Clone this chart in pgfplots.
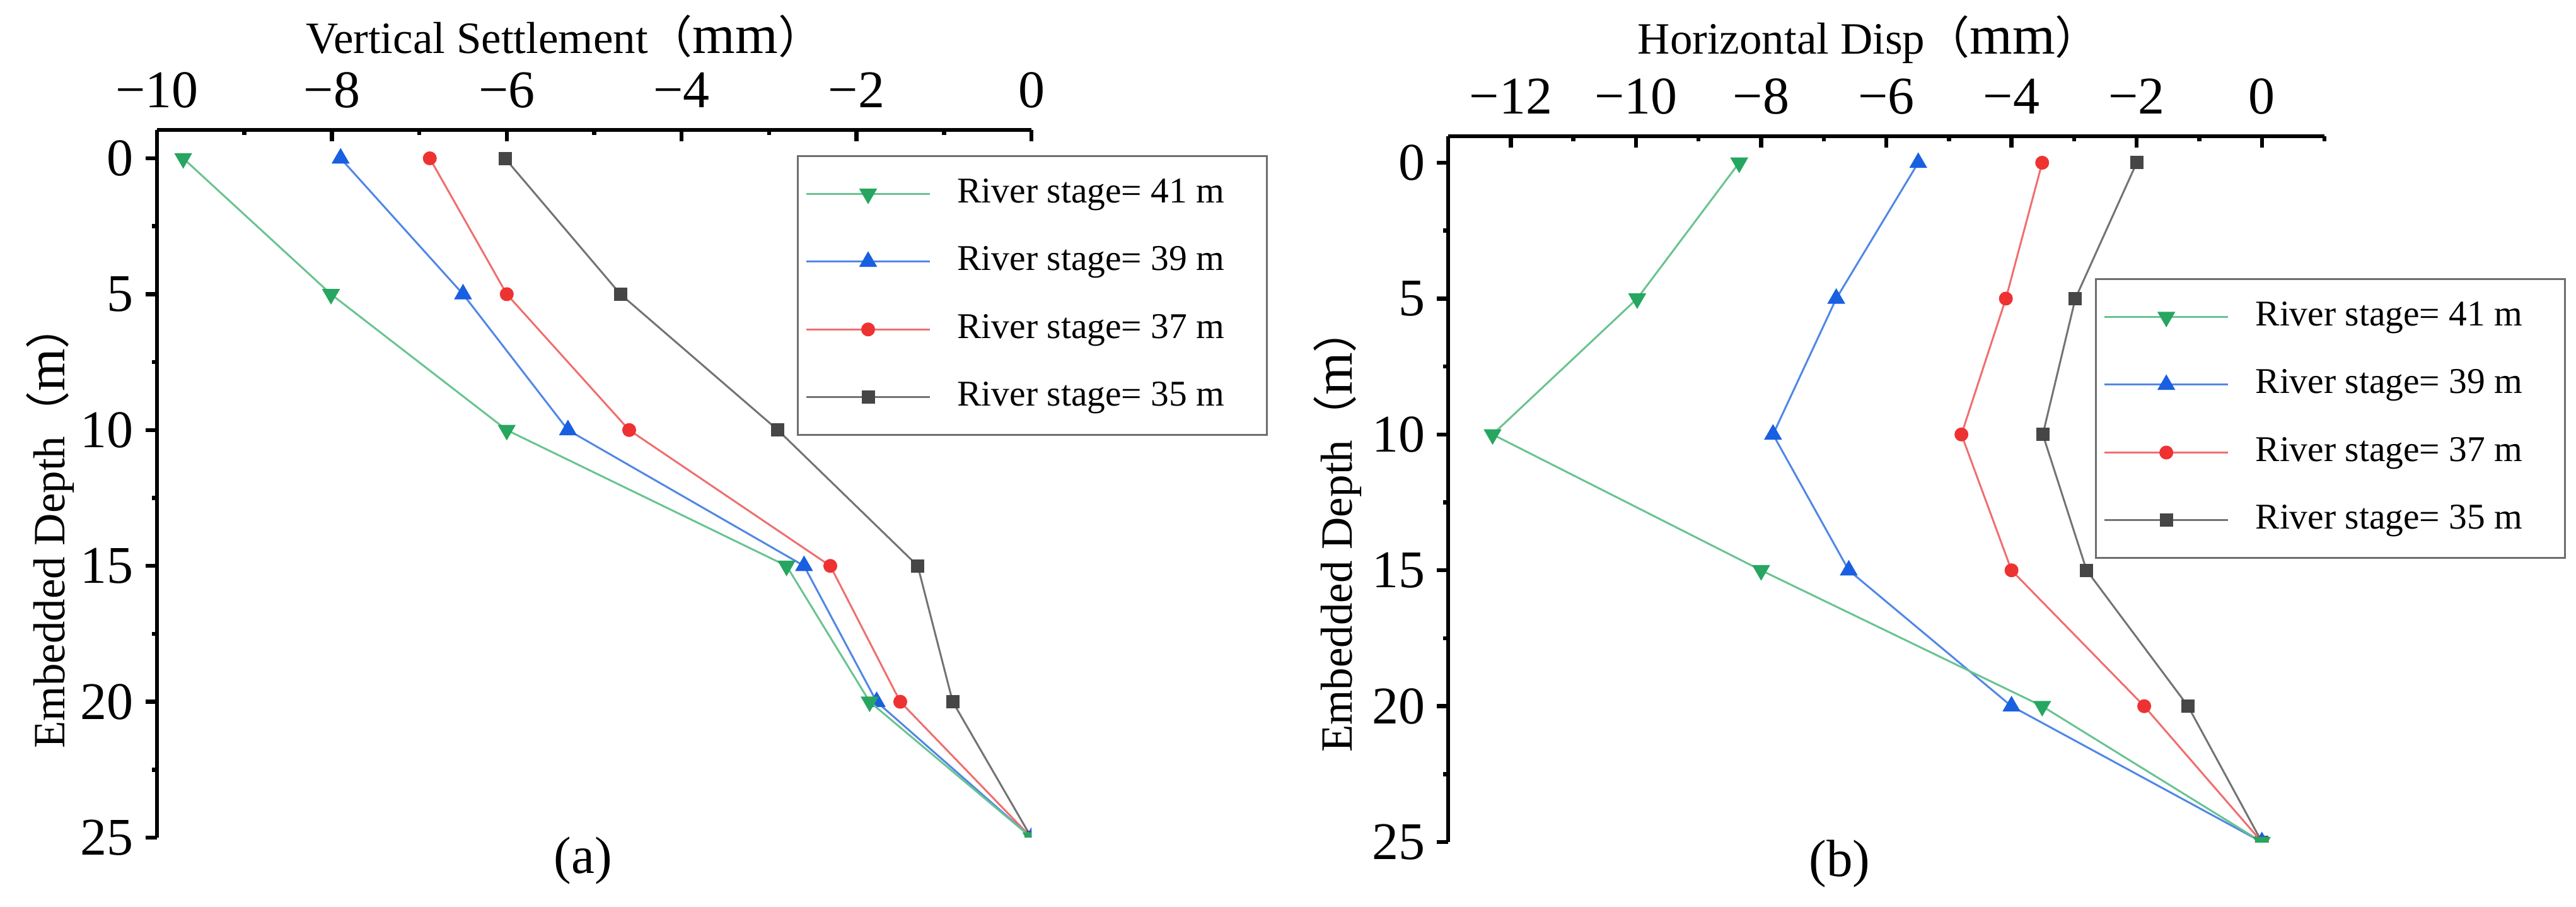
\documentclass[border=0pt]{standalone}
\usepackage{pgfplots}
\pgfplotsset{compat=1.18}
\usepackage{fontspec}
\setmainfont{Liberation Serif}
\newfontfamily\cjk{Noto Sans CJK SC}
\definecolor{gM}{RGB}{38,166,96}
\definecolor{gL}{RGB}{105,195,145}
\definecolor{bM}{RGB}{25,95,225}
\definecolor{bL}{RGB}{80,135,230}
\definecolor{rM}{RGB}{238,50,50}
\definecolor{rL}{RGB}{240,110,110}
\definecolor{kM}{RGB}{70,70,70}
\definecolor{kL}{RGB}{115,115,115}
\definecolor{lg}{RGB}{110,110,110}
\newcommand\lp{{\cjk （}}
\newcommand\rp{{\cjk ）}}
\newcommand\bigu[1]{{\fontsize{8.7}{8.7}\selectfont #1}}
\pgfplotsset{
  s41/.style={color=gL, line width=0.3pt, mark=triangle*, mark size=1.45pt, mark options={fill=gM, draw=gM, rotate=180, line width=0.2pt}},
  s39/.style={color=bL, line width=0.3pt, mark=triangle*, mark size=1.45pt, mark options={fill=bM, draw=bM, line width=0.2pt}},
  s37/.style={color=rL, line width=0.3pt, mark=*, mark size=1.0pt, mark options={fill=rM, draw=rM, line width=0.2pt}},
  s35/.style={color=kL, line width=0.3pt, mark=square*, mark size=0.95pt, mark options={fill=kM, draw=kM, line width=0.2pt}},
  myax/.style={
    scale only axis,
    anchor=north west,
    y dir=reverse,
    clip marker paths=true,
    axis x line*=top,
    axis y line*=left,
    axis line style={line width=0.55pt, black, -},
    every tick/.style={black, line width=0.65pt},
    major tick length=1.8pt,
    minor tick length=0.8pt,
    xtick align=inside,
    ytick align=outside,
    ytick={0,5,10,15,20,25},
    minor ytick={2.5,7.5,12.5,17.5,22.5},
    yticklabels={0,5,10,15,20,25},
    tick label style={font=\fontsize{8.4}{8.4}\selectfont},
    xticklabel style={anchor=base, yshift=3.5pt},
    yticklabel style={anchor=east, inner sep=0pt, xshift=-1.7pt},
    label style={font=\fontsize{7.1}{7.1}\selectfont},
    legend cell align=left,
    reverse legend=true,
    legend image code/.code={\draw[mark repeat=2,mark phase=2] plot coordinates {(0pt,0pt) (9.8pt,0pt) (19.6pt,0pt)};},
    legend style={anchor=north west, draw=lg, line width=0.3pt, font=\fontsize{5.75}{5.75}\selectfont,
      inner xsep=1.2pt, inner ysep=3.35pt, row sep=5.5pt, column sep=4.2pt,
      nodes={inner sep=0pt, text height=4pt, text depth=1.25pt}},
  }
}
\begin{document}
\begin{tikzpicture}
\useasboundingbox (0,0) rectangle (408.6pt,-143.8pt);
\begin{axis}[myax,
  at={(24.9pt,-20.6pt)}, width=138.7pt, height=112.2pt,
  xmin=-10, xmax=0, ymin=-1.045, ymax=25,
  xtick={-10,-8,-6,-4,-2,0}, minor xtick={-9,-7,-5,-3,-1},
  xticklabels={−10,−8,−6,−4,−2,0},
  xlabel={Vertical Settlement\lp\bigu{mm}\rp},
  xlabel style={at={([yshift=12.1pt]axis description cs:0.466,1)}, anchor=base},
  ylabel={Embedded Depth\lp\bigu{m}\rp},
  ylabel style={at={([xshift=-14.7pt]axis description cs:0,0.44)}, anchor=base},
  legend style={at={(axis description cs:0.7318,0.9643)}},
]
\addplot[s35] coordinates {(-6.02,0) (-4.70,5) (-2.90,10) (-1.30,15) (-0.90,20) (0,25)};
\addlegendentry{River stage= 35 m\hspace*{5.5pt}\null}
\addplot[s37] coordinates {(-6.88,0) (-6.00,5) (-4.60,10) (-2.30,15) (-1.50,20) (0,25)};
\addlegendentry{River stage= 37 m\hspace*{5.5pt}\null}
\addplot[s39] coordinates {(-7.90,0) (-6.50,5) (-5.30,10) (-2.60,15) (-1.77,20) (0,25)};
\addlegendentry{River stage= 39 m\hspace*{5.5pt}\null}
\addplot[s41] coordinates {(-9.70,0) (-8.01,5) (-6.00,10) (-2.80,15) (-1.85,20) (0,25)};
\addlegendentry{River stage= 41 m\hspace*{5.5pt}\null}
\end{axis}
\begin{axis}[myax,
  at={(229.7pt,-21.6pt)}, width=139pt, height=111.9pt,
  xmin=-13, xmax=1, ymin=-0.975, ymax=25,
  xtick={-12,-10,-8,-6,-4,-2,0}, minor xtick={-13,-11,-9,-7,-5,-3,-1,1},
  xticklabels={−12,−10,−8,−6,−4,−2,0},
  xlabel={Horizontal Disp\lp\bigu{mm}\rp},
  xlabel style={at={([yshift=13pt]axis description cs:0.48,1)}, anchor=base},
  ylabel={Embedded Depth\lp\bigu{m}\rp},
  ylabel style={at={([xshift=-15.3pt]axis description cs:0,0.442)}, anchor=base},
  legend style={at={(axis description cs:0.7382,0.7987)}},
]
\addplot[s35] coordinates {(-2.00,0) (-2.98,5) (-3.50,10) (-2.80,15) (-1.18,20) (0,25)};
\addlegendentry{River stage= 35 m\hspace*{5.5pt}\null}
\addplot[s37] coordinates {(-3.51,0) (-4.09,5) (-4.80,10) (-4.00,15) (-1.88,20) (0,25)};
\addlegendentry{River stage= 37 m\hspace*{5.5pt}\null}
\addplot[s39] coordinates {(-5.49,0) (-6.80,5) (-7.81,10) (-6.60,15) (-4.00,20) (0,25)};
\addlegendentry{River stage= 39 m\hspace*{5.5pt}\null}
\addplot[s41] coordinates {(-8.35,0) (-9.98,5) (-12.29,10) (-8.00,15) (-3.51,20) (0,25)};
\addlegendentry{River stage= 41 m\hspace*{5.5pt}\null}
\end{axis}
\node[font=\fontsize{8.3}{8.3}\selectfont] at (92.5pt,-136.5pt) {(a)};
\node[font=\fontsize{8.3}{8.3}\selectfont] at (291.8pt,-137pt) {(b)};
\end{tikzpicture}
\end{document}
